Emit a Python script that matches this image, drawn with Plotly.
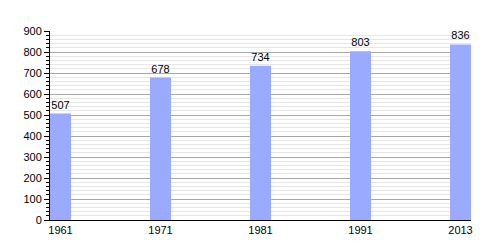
import plotly.graph_objects as go

years = ["1961", "1971", "1981", "1991", "2013"]
population = [507, 678, 734, 803, 836]
y_ticks = [0, 100, 200, 300, 400, 500, 600, 700, 800, 900]

positions = list(range(len(years)))

fig = go.Figure(
    go.Bar(
        x=positions,
        y=population,
        width=0.21,
        marker=dict(color="#99aaff", line=dict(width=0)),
        text=[str(v) for v in population],
        textposition="outside",
        textfont=dict(family="Liberation Sans, Arial", size=11, color="#000"),
        cliponaxis=False,
    )
)

fig.update_layout(
    width=500,
    height=250,
    margin=dict(l=50, r=29, t=31, b=30),
    paper_bgcolor="white",
    plot_bgcolor="white",
    showlegend=False,
    font=dict(family="Liberation Sans, Arial", size=11, color="#000"),
    xaxis=dict(
        range=[-0.105, 4.105],
        tickvals=positions,
        ticktext=years,
        showgrid=False,
        zeroline=False,
        showline=True,
        linecolor="#000",
        linewidth=1,
        ticks="",
        ticklabelstandoff=0,
    ),
    yaxis=dict(
        range=[0, 900],
        tickvals=y_ticks,
        showgrid=True,
        gridcolor="#a8a8a8",
        gridwidth=1,
        zeroline=False,
        showline=True,
        linecolor="#000",
        linewidth=1,
        ticks="outside",
        ticklen=5,
        tickcolor="#000",
        minor=dict(
            dtick=20,
            showgrid=True,
            gridcolor="#e6e6e6",
            gridwidth=1,
            ticks="outside",
            ticklen=3,
            tickcolor="#000",
        ),
    ),
)

fig.write_html("out.html")
